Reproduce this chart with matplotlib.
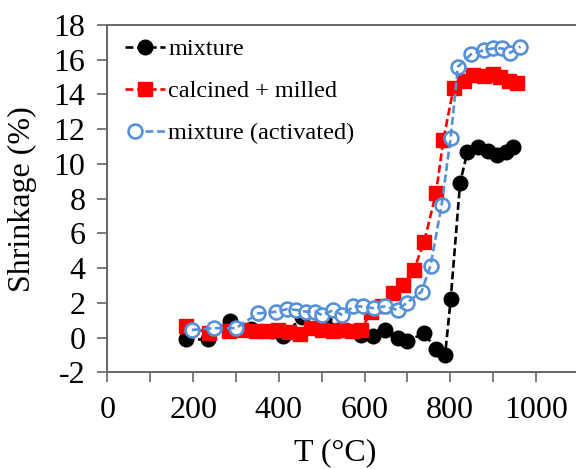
import numpy as np
import matplotlib.pyplot as plt
from matplotlib.ticker import MultipleLocator
from matplotlib.legend_handler import HandlerTuple

# ---------------------------------------------------------------------------#
# ------------------------------ Shrinkage Data ------------------------------#

# Plain mixture
mixtureT = [184, 234, 285, 335, 385, 410, 455, 505, 545, 591, 620, 647, 677,
            698, 739, 767, 788, 801, 823, 840, 865, 887, 908, 930, 947]
mixtureS = [-0.1, -0.1, 0.95, 0.5, 0.4, 0.1, 1.2, 1.1, 0.5, 0.15, 0.1, 0.45,
            0.0, -0.2, 0.25, -0.65, -1.0, 2.2, 8.9, 10.7, 11.0, 10.75, 10.5,
            10.7, 10.95]

# Calcined + milled powder
calcinedT = [184, 236, 283, 313, 347, 373, 398, 424, 450, 476, 501, 527, 548,
             570, 591, 616, 640, 666, 690, 715, 739, 767, 784, 808, 831, 853,
             878, 900, 917, 938, 957]
calcinedS = [0.65, 0.3, 0.4, 0.45, 0.4, 0.4, 0.45, 0.35, 0.2, 0.55, 0.45,
             0.4, 0.45, 0.4, 0.45, 1.5, 1.8, 2.6, 3.05, 3.9, 5.5, 8.35, 11.4,
             14.4, 14.8, 15.1, 15.05, 15.15, 15.0, 14.75, 14.65]

# Activated mixture
activatedT = [197, 248, 300, 351, 394, 420, 441, 463, 484, 501, 527, 548, 574,
              596, 621, 647, 677, 698, 733, 754, 780, 801, 818, 848, 878, 900,
              921, 940, 964]
activatedS = [0.45, 0.55, 0.55, 1.4, 1.5, 1.65, 1.6, 1.5, 1.5, 1.3, 1.6, 1.3,
              1.8, 1.8, 1.7, 1.8, 1.6, 2.0, 2.65, 4.15, 7.65, 11.5, 15.6, 16.3,
              16.55, 16.65, 16.65, 16.4, 16.75]

seriesLabels = ["mixture", "calcined + milled", "mixture (activated)"]

# ---------------------------------------------------------------------------#
# --------------------------------- Plotting ---------------------------------#

plt.rcParams['font.family'] = ['Liberation Serif', 'DejaVu Serif']
plt.rcParams['axes.unicode_minus'] = False

axisColor = '#666666'
blueColor = '#5590D8'
dashPattern = (3.0, 1.4)

figure = plt.figure(figsize=(5.76, 4.69), dpi=100)
# Axes run slightly past the right edge so the right border is cut off
ax = figure.add_axes([0.1866, 0.2058, 0.8182, 0.741])

# Mixture: filled black circles
mixtureLine, = ax.plot(mixtureT, mixtureS, color='black', linewidth=1.9,
                       dashes=dashPattern, marker='o', markersize=10.5, zorder=2)
# Calcined + milled: filled red squares
calcinedLine, = ax.plot(calcinedT, calcinedS, color='red', linewidth=1.9,
                        dashes=dashPattern, marker='s', markersize=10.5, zorder=3)
# Activated: white circles with the dashed line drawn over them
activatedMarks, = ax.plot(activatedT, activatedS, linestyle='none', marker='o',
                          markersize=10, markerfacecolor='white',
                          markeredgecolor=blueColor, markeredgewidth=1.9, zorder=4)
activatedLine, = ax.plot(activatedT, activatedS, color=blueColor, linewidth=1.9,
                         dashes=dashPattern, zorder=5)

# Set the Axis Limits and Ticks
ax.set_xlim(0, 1100)
ax.set_ylim(-2, 18)
ax.xaxis.set_major_locator(MultipleLocator(200))
ax.xaxis.set_minor_locator(MultipleLocator(100))
ax.yaxis.set_major_locator(MultipleLocator(2))
ax.tick_params(axis='both', which='both', direction='out', length=7, width=1.2,
               color=axisColor, labelsize=23)
ax.tick_params(axis='x', pad=10)
ax.tick_params(axis='y', pad=9)
for side in ['left', 'bottom', 'top', 'right']:
    ax.spines[side].set_color(axisColor)
    ax.spines[side].set_linewidth(1.4)

# Set the Labels
ax.set_xlabel("T (°C)", fontsize=23)
ax.set_ylabel("Shrinkage (%)", fontsize=23)
ax.xaxis.set_label_coords(0.483, -0.19)
ax.yaxis.set_label_coords(-0.15, 0.5)

# Add the Legend
ax.legend([mixtureLine, calcinedLine, (activatedMarks, activatedLine)], seriesLabels,
          handler_map={tuple: HandlerTuple(ndivide=None)},
          loc='upper left', bbox_to_anchor=(0.038, 0.962), frameon=False,
          fontsize=17.5, numpoints=1, handlelength=1.65, handletextpad=0.12,
          labelspacing=0.82, borderpad=0, borderaxespad=0)

plt.savefig("out.png", dpi=100)
